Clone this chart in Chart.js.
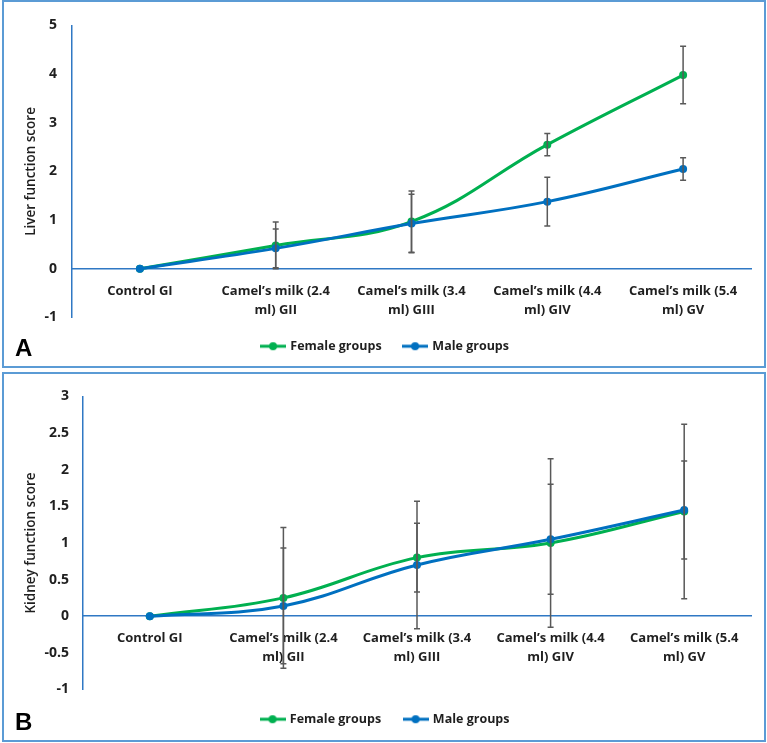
<!DOCTYPE html>
<html>
<head>
<meta charset="utf-8">
<script src="https://cdn.jsdelivr.net/npm/chart.js@4.4.1/dist/chart.umd.min.js"></script>
<style>
  body { margin: 0; background: #fff; }
  .panel { position: absolute; left: 2px; width: 764px; box-sizing: border-box; border: 2px solid #5B9BD5; background: #fff; overflow: hidden; }
  #pa { top: 0; height: 368px; }
  #pb { top: 372px; height: 370px; }
  .wrap { position: absolute; left: 0; right: 0; top: 0; bottom: 0; }
  .tag { position: absolute; left: 11px; font: bold 24px "Liberation Sans", Arial, sans-serif; color: #000; }
</style>
</head>
<body>
<div class="panel" id="pa"><div class="wrap"><canvas id="chartA"></canvas></div><div class="tag" style="top:332px">A</div></div>
<div class="panel" id="pb"><div class="wrap"><canvas id="chartB"></canvas></div><div class="tag" style="top:334px">B</div></div>
<script>
// categorias del eje x
const groups = [
  ['Control GI'],
  ['Camel\u2019s milk (2.4', 'ml) GII'],
  ['Camel\u2019s milk (3.4', 'ml) GIII'],
  ['Camel\u2019s milk (4.4', 'ml) GIV'],
  ['Camel\u2019s milk (5.4', 'ml) GV']
];
const seriesNames = ['Female groups', 'Male groups'];

// Panel A - hígado
const liverFemale = [0, 0.48, 0.97, 2.55, 3.98];
const liverFemaleErr = [0, 0.48, 0.63, 0.23, 0.59];
const liverMale = [0, 0.42, 0.93, 1.38, 2.05];
const liverMaleErr = [0, 0.40, 0.60, 0.50, 0.23];

// Panel B - riñón
const kidneyFemale = [0, 0.25, 0.80, 1.00, 1.43];
const kidneyFemaleErr = [0, 0.96, 0.47, 1.15, 1.19];
const kidneyMale = [0, 0.14, 0.70, 1.05, 1.45];
const kidneyMaleErr = [0, 0.79, 0.87, 0.75, 0.67];

const GREEN = '#00B050', BLUE = '#0070C0', AXIS = '#2F78C4', TEXT = '#1f1f1f';
const FONT = '"Open Sans", "Noto Sans", sans-serif';

// icono de la leyenda: linea con punto
function legendIcon(color) {
  const c = document.createElement('canvas');
  c.width = 26; c.height = 10;
  const g = c.getContext('2d');
  g.strokeStyle = color; g.lineWidth = 3;
  g.beginPath(); g.moveTo(0, 5); g.lineTo(26, 5); g.stroke();
  g.fillStyle = color;
  g.beginPath(); g.arc(13, 5, 4, 0, Math.PI * 2); g.fill();
  return c;
}

// barras de error dibujadas con las escalas del grafico
const errorBars = {
  id: 'errorBars',
  afterDatasetsDraw(chart) {
    const ctx = chart.ctx, y = chart.scales.y;
    ctx.save();
    ctx.strokeStyle = '#595959';
    ctx.lineWidth = 1.5;
    chart.data.datasets.forEach((ds, di) => {
      const meta = chart.getDatasetMeta(di);
      ds.err.forEach((e, i) => {
        if (!e) return;
        const x = meta.data[i].x;
        const top = y.getPixelForValue(ds.data[i] + e);
        const bot = y.getPixelForValue(ds.data[i] - e);
        ctx.beginPath();
        ctx.moveTo(x, top); ctx.lineTo(x, bot);
        ctx.moveTo(x - 3, top); ctx.lineTo(x + 3, top);
        ctx.moveTo(x - 3, bot); ctx.lineTo(x + 3, bot);
        ctx.stroke();
      });
    });
    ctx.restore();
  }
};

function makeChart(id, female, femaleErr, male, maleErr, opts) {
  return new Chart(document.getElementById(id), {
    type: 'line',
    data: {
      labels: groups,
      datasets: [
        { label: seriesNames[0], data: female, err: femaleErr, borderColor: GREEN, backgroundColor: GREEN, order: 1 },
        { label: seriesNames[1], data: male, err: maleErr, borderColor: BLUE, backgroundColor: BLUE, order: 0 }
      ]
    },
    options: {
      responsive: true,
      maintainAspectRatio: false,
      animation: false,
      layout: { autoPadding: false, padding: { left: 16, right: 13, top: opts.top, bottom: opts.bottom } },
      elements: {
        line: { borderWidth: 3, tension: 0.4 },
        point: { radius: 4, hoverRadius: 4, borderWidth: 0 }
      },
      scales: {
        x: {
          type: 'category',
          offset: true,
          position: { y: 0 },
          grid: { display: false },
          border: { display: true, color: AXIS, width: 1.5 },
          ticks: { color: TEXT, font: { family: FONT, size: 13, weight: 'bold', lineHeight: 1.45 }, padding: 5, maxRotation: 0, autoSkip: false }
        },
        y: {
          min: opts.min, max: opts.max,
          grid: { display: false, drawTicks: false, tickLength: 0 },
          border: { display: true, color: AXIS, width: 1.5 },
          ticks: { stepSize: opts.step, color: TEXT, font: { family: FONT, size: 14, weight: 'bold' }, padding: opts.tickPad, callback: v => String(v) },
          title: { display: true, text: opts.title, color: TEXT, font: { family: FONT, size: 13.5, weight: '600' }, padding: { top: 3, bottom: 0 } },
          afterFit: s => { s.width = opts.yWidth; }
        }
      },
      plugins: {
        tooltip: { enabled: false },
        legend: {
          position: 'bottom',
          labels: {
            usePointStyle: true,
            pointStyleWidth: 22,
            padding: opts.legendPad,
            color: TEXT,
            font: { family: FONT, size: 12.5, weight: 'bold' },
            sort: (a, b) => a.datasetIndex - b.datasetIndex,
            generateLabels: ch => ch.data.datasets.map((ds, i) => ({
              text: ds.label, datasetIndex: i, pointStyle: legendIcon(ds.borderColor),
              fillStyle: ds.borderColor, strokeStyle: ds.borderColor, lineWidth: 0, fontColor: TEXT
            }))
          }
        }
      }
    },
    plugins: [errorBars]
  });
}

makeChart('chartA', liverFemale, liverFemaleErr, liverMale, liverMaleErr,
  { min: -1, max: 5, step: 1, title: 'Liver function score', yWidth: 52, tickPad: 15, legendPad: 22.5, top: 15, bottom: 3.5 });
makeChart('chartB', kidneyFemale, kidneyFemaleErr, kidneyMale, kidneyMaleErr,
  { min: -1, max: 3, step: 0.5, title: 'Kidney function score', yWidth: 63, tickPad: 14, legendPad: 23.5, top: 16, bottom: 4.5 });
</script>
</body>
</html>
